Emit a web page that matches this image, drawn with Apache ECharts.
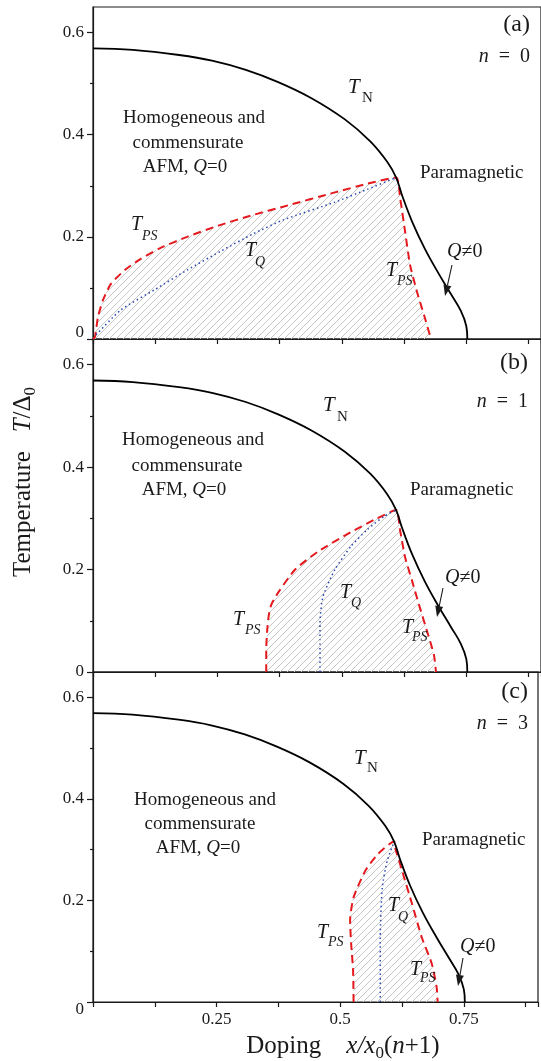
<!DOCTYPE html>
<html>
<head>
<meta charset="utf-8">
<script src="https://cdn.jsdelivr.net/npm/echarts@6/dist/echarts.min.js"></script>
<style>
html, body { margin: 0; padding: 0; background: #fff; }
#chart { width: 541px; height: 1061px; }
</style>
</head>
<body>
<div id="chart"></div>
<script>
// Neel temperature, same in all three panels
const tN = [[0, 0.569], [0.08, 0.566], [0.173, 0.556], [0.239, 0.545], [0.307, 0.527], [0.372, 0.503],
    [0.438, 0.472], [0.506, 0.430], [0.557, 0.387], [0.591, 0.347], [0.609, 0.316], [0.621, 0.281],
    [0.641, 0.230], [0.667, 0.176], [0.695, 0.127], [0.719, 0.088], [0.739, 0.055], [0.750, 0.025], [0.752, 0]];

// (a) n = 0
const tPsA = [[0, 0], [0.004, 0.004], [0.010, 0.043], [0.020, 0.076], [0.036, 0.108], [0.064, 0.135],
    [0.096, 0.157], [0.135, 0.178], [0.189, 0.200], [0.255, 0.223], [0.322, 0.243], [0.382, 0.259],
    [0.486, 0.287], [0.551, 0.304], [0.609, 0.316], [0.617, 0.276], [0.627, 0.210], [0.637, 0.145],
    [0.651, 0.092], [0.665, 0.047], [0.679, 0]];
const tQA = [[0.006, 0.008], [0.056, 0.057], [0.123, 0.096], [0.189, 0.135], [0.255, 0.171], [0.322, 0.206],
    [0.382, 0.233], [0.486, 0.268], [0.551, 0.293], [0.609, 0.316]];

// (b) n = 1
const tPsB = [[0.348, 0], [0.348, 0.043], [0.350, 0.082], [0.353, 0.110], [0.358, 0.131], [0.372, 0.155],
    [0.406, 0.200], [0.452, 0.235], [0.518, 0.273], [0.571, 0.300], [0.609, 0.316], [0.617, 0.276],
    [0.627, 0.224], [0.641, 0.178], [0.655, 0.131], [0.671, 0.080], [0.685, 0.033], [0.689, 0]];
const tQB = [[0.456, 0], [0.456, 0.063], [0.456, 0.096], [0.462, 0.147], [0.486, 0.200], [0.518, 0.245],
    [0.551, 0.278], [0.585, 0.304], [0.609, 0.316]];

// (c) n = 3
const tPsC = [[0.527, 0], [0.526, 0.063], [0.522, 0.116], [0.520, 0.161], [0.527, 0.206], [0.551, 0.259],
    [0.577, 0.292], [0.609, 0.316], [0.611, 0.304], [0.625, 0.259], [0.645, 0.194], [0.665, 0.127],
    [0.685, 0.076], [0.695, 0.029], [0.697, 0]];
const tQC = [[0.581, 0], [0.581, 0.127], [0.585, 0.225], [0.595, 0.278], [0.609, 0.316]];

const yLabels = [0, 0.2, 0.4, 0.6];
const yMinor = [0.1, 0.3, 0.5];
const xLabels = [0.25, 0.5, 0.75];

const serif = '"Liberation Serif", "Times New Roman", serif';
const ink = '#1a1a1a';

// diagonal hatching for the phase separation region
function hatch() {
    const c = document.createElement('canvas');
    c.width = 7; c.height = 7;
    const g = c.getContext('2d');
    g.strokeStyle = '#c6c6c6';
    g.lineWidth = 1;
    g.beginPath();
    g.moveTo(0, 7); g.lineTo(7, 0);
    g.moveTo(-1, 1); g.lineTo(1, -1);
    g.moveTo(6, 8); g.lineTo(8, 6);
    g.stroke();
    return c;
}
const hatchImg = hatch();

const tops = [7, 339, 672];
const heights = [332, 333, 330];

const grids = tops.map((t, i) => ({
    left: 93, width: 453, top: t, height: heights[i],
    show: true, borderColor: ink, borderWidth: 1.2, backgroundColor: 'transparent'
}));

const xAxes = [0, 1, 2].map(i => ({
    type: 'value', gridIndex: i, min: 0, max: 0.9, interval: 0.125,
    splitLine: { show: false },
    axisLine: { lineStyle: { color: ink, width: 1.2 } },
    axisTick: { length: 5, lineStyle: { color: ink, width: 1.2 } },
    axisLabel: {
        show: i === 2, margin: 9, color: ink, fontSize: 17, fontFamily: serif,
        formatter: v => xLabels.some(l => Math.abs(l - v) < 1e-6) ? String(v) : ''
    }
}));

const zeroPad = [[0, 0, 12, 0], [0, 0, 0, 0], [16, 0, 0, 0]];
const yMain = [0, 1, 2].map(i => ({
    type: 'value', gridIndex: i, min: 0, max: 0.65, position: 'left',
    splitLine: { show: false },
    axisLine: { show: true, lineStyle: { color: ink, width: 1.2 } },
    axisTick: { customValues: yLabels, length: 6, lineStyle: { color: ink, width: 1.2 } },
    axisLabel: {
        customValues: yLabels, margin: 9, color: ink, fontSize: 17, fontFamily: serif,
        formatter: v => v === 0 ? '{z|0}' : String(v),
        rich: { z: { fontSize: 17, fontFamily: serif, color: ink, padding: zeroPad[i] } }
    }
}));
const yMin = [0, 1, 2].map(i => ({
    type: 'value', gridIndex: i, min: 0, max: 0.65, position: 'left',
    splitLine: { show: false },
    axisLine: { show: false },
    axisTick: { customValues: yMinor, length: 3, lineStyle: { color: ink, width: 1.2 } },
    axisLabel: { show: false }
}));

function lineTN(i) {
    return {
        type: 'line', xAxisIndex: i, yAxisIndex: i, data: tN, showSymbol: false, smooth: 0.4,
        lineStyle: { color: '#000', width: 1.8 }, z: 5
    };
}
function linePS(i, data) {
    return {
        type: 'line', xAxisIndex: i, yAxisIndex: i, data: data, showSymbol: false, smooth: 0.2,
        lineStyle: { color: '#e4191e', width: 2, type: [8, 5] },
        areaStyle: { color: { image: hatchImg, repeat: 'repeat' }, opacity: 1 }, z: 3
    };
}
function lineQ(i, data) {
    return {
        type: 'line', xAxisIndex: i, yAxisIndex: i, data: data, showSymbol: false, smooth: 0.2,
        lineStyle: { color: '#2a48b0', width: 1.5, type: [1.5, 3] }, z: 4
    };
}

// text helpers
function txt(x, y, text, size, italic, align) {
    return {
        type: 'text', x: x, y: y, silent: true, z: 20,
        style: {
            text: text, fontSize: size, fontFamily: serif, fontStyle: italic ? 'italic' : 'normal',
            fill: ink, align: align || 'left', verticalAlign: 'middle'
        }
    };
}
function rich(x, y, text, size, align) {
    return {
        type: 'text', x: x, y: y, silent: true, z: 20,
        style: {
            text: text, fontSize: size, fontFamily: serif, fill: ink,
            align: align || 'left', verticalAlign: 'middle',
            rich: {
                i: { fontSize: size, fontFamily: serif, fontStyle: 'italic', fill: ink },
                r: { fontSize: size, fontFamily: serif, fill: ink }
            }
        }
    };
}
function sym(x, y, main, sub, sx, sy, subItalic) {
    return [txt(x, y, main, 20, true), txt(sx, sy, sub, 14, subItalic)];
}
function arrow(x1, y1, x2, y2) {
    const a = Math.atan2(y2 - y1, x2 - x1);
    const L = 11, W = 4;
    const bx = x2 - L * Math.cos(a), by = y2 - L * Math.sin(a);
    const px = -Math.sin(a) * W, py = Math.cos(a) * W;
    return [
        { type: 'line', silent: true, z: 20, shape: { x1: x1, y1: y1, x2: bx, y2: by }, style: { stroke: ink, lineWidth: 1.1 } },
        { type: 'polygon', silent: true, z: 20, shape: { points: [[x2, y2], [bx + px, by + py], [bx - px, by - py]] }, style: { fill: ink } }
    ];
}
function regionText(cx, cy, cx2, cy2, cx3, cy3) {
    return [
        txt(cx, cy, 'Homogeneous and', 19, false, 'center'),
        txt(cx2, cy2, 'commensurate', 19, false, 'center'),
        rich(cx3, cy3, '{r|AFM, }{i|Q}{r|=0}', 19, 'center')
    ];
}

const graphics = [].concat(
    // (a)
    txt(530, 25, '(a)', 24, false, 'right'),
    rich(530, 57, '{i|n}{r|  =  0}', 20, 'right'),
    [txt(348, 87, 'T', 21, true), txt(362, 98, 'N', 15, false)],
    regionText(194, 118, 188, 143, 185, 167),
    txt(420, 173, 'Paramagnetic', 19, false),
    sym(131, 225, 'T', 'PS', 142, 236, true),
    sym(245, 251, 'T', 'Q', 255, 262, true),
    sym(386, 271, 'T', 'PS', 397, 281, true),
    rich(447, 252, '{i|Q}{r|≠0}', 20),
    arrow(452, 265, 445, 296),
    // (b)
    txt(528, 363, '(b)', 24, false, 'right'),
    rich(528, 402, '{i|n}{r|  =  1}', 20, 'right'),
    [txt(323, 405, 'T', 21, true), txt(337, 417, 'N', 15, false)],
    regionText(193, 440, 187, 466, 184, 490),
    txt(410, 490, 'Paramagnetic', 19, false),
    sym(233, 620, 'T', 'PS', 245, 630, true),
    sym(340, 593, 'T', 'Q', 351, 603, true),
    sym(402, 628, 'T', 'PS', 412, 637, true),
    rich(445, 578, '{i|Q}{r|≠0}', 20),
    arrow(443, 588, 437, 617),
    // (c)
    txt(528, 692, '(c)', 24, false, 'right'),
    rich(528, 724, '{i|n}{r|  =  3}', 20, 'right'),
    [txt(354, 758, 'T', 21, true), txt(367, 768, 'N', 15, false)],
    regionText(205, 800, 200, 824, 198, 848),
    txt(422, 840, 'Paramagnetic', 19, false),
    sym(317, 933, 'T', 'PS', 328, 942, true),
    sym(388, 906, 'T', 'Q', 398, 917, true),
    sym(410, 970, 'T', 'PS', 420, 978, true),
    rich(460, 947, '{i|Q}{r|≠0}', 20),
    arrow(463, 958, 458, 986),
    // axis titles
    {
        type: 'text', x: 23, y: 482, rotation: Math.PI / 2, silent: true, z: 20,
        style: {
            text: '{r|Temperature   }{i|T}{r|/Δ}{s|0}', align: 'center', verticalAlign: 'middle',
            fontSize: 25, fontFamily: serif, fill: ink, lineHeight: 32,
            rich: {
                r: { fontSize: 25, fontFamily: serif, fill: ink, verticalAlign: 'middle' },
                i: { fontSize: 25, fontFamily: serif, fontStyle: 'italic', fill: ink, verticalAlign: 'middle' },
                s: { fontSize: 17, fontFamily: serif, fill: ink, verticalAlign: 'bottom' }
            }
        }
    },
    {
        type: 'text', x: 343, y: 1046, silent: true, z: 20,
        style: {
            text: '{r|Doping    }{i|x/x}{s|0}{r|(}{i|n}{r|+1)}', align: 'center', verticalAlign: 'middle',
            fontSize: 25, fontFamily: serif, fill: ink, lineHeight: 32,
            rich: {
                r: { fontSize: 25, fontFamily: serif, fill: ink, verticalAlign: 'middle' },
                i: { fontSize: 25, fontFamily: serif, fontStyle: 'italic', fill: ink, verticalAlign: 'middle' },
                s: { fontSize: 17, fontFamily: serif, fill: ink, verticalAlign: 'bottom' }
            }
        }
    }
);

const myChart = echarts.init(document.getElementById('chart'));
const option = {
    animation: false,
    backgroundColor: '#fff',
    grid: grids,
    xAxis: xAxes,
    yAxis: yMain.concat(yMin),
    series: [
        lineTN(0), linePS(0, tPsA), lineQ(0, tQA),
        lineTN(1), linePS(1, tPsB), lineQ(1, tQB),
        lineTN(2), linePS(2, tPsC), lineQ(2, tQC)
    ],
    graphic: graphics
};
myChart.setOption(option);
</script>
</body>
</html>
